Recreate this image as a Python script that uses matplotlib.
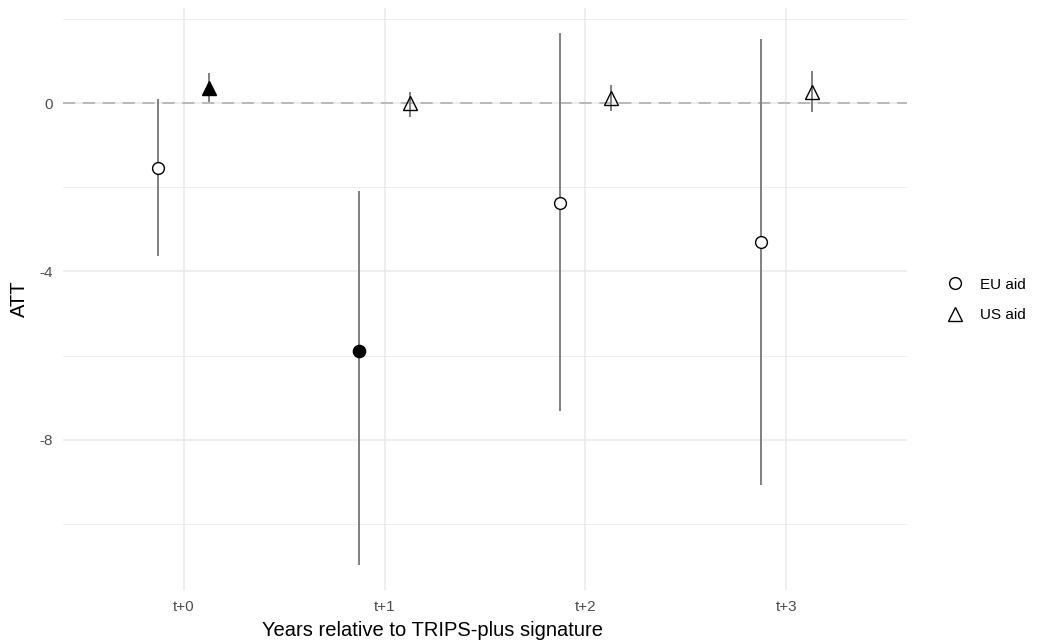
import matplotlib
matplotlib.use("Agg")
import matplotlib.pyplot as plt
from matplotlib.lines import Line2D
import numpy as np

plt.rcParams['font.family'] = ['Liberation Sans', 'DejaVu Sans']

periods = ["t+0", "t+1", "t+2", "t+3"]
eu_att = [-1.54, -5.89, -2.37, -3.31]
eu_lo = [-3.60, -10.97, -7.29, -9.06]
eu_hi = [0.07, -2.12, 1.64, 1.50]
eu_sig = [False, True, False, False]
us_att = [0.37, 0.02, 0.14, 0.28]
us_lo = [0.05, -0.31, -0.15, -0.19]
us_hi = [0.71, 0.25, 0.42, 0.74]
us_sig = [True, False, False, False]
yticks = [0, -4, -8]

W, H = 1042, 642
fig = plt.figure(figsize=(W / 100, H / 100), dpi=100)
left, right, top, bottom = 63, 907, 8, 590
ax = fig.add_axes([left / W, 1 - bottom / H, (right - left) / W, (bottom - top) / H])

x = np.arange(1, len(periods) + 1)
dodge = 0.125

ax.set_xlim(0.4, 4.6)
ax.set_ylim(-11.58, 2.27)

# grid
for yv in [2, -2, -6, -10]:
    ax.axhline(yv, color="#ebebeb", lw=0.6, zorder=0)
for yv in yticks:
    ax.axhline(yv, color="#ebebeb", lw=1.2, zorder=0)
for xv in x:
    ax.axvline(xv, color="#ebebeb", lw=1.2, zorder=0)

ax.axhline(0, color="#ababab", lw=1.1, ls=(0, (8, 5)), zorder=1)

err_c = "#808080"
for i in range(len(periods)):
    xe = x[i] - dodge
    ax.plot([xe, xe], [eu_lo[i], eu_hi[i]], color=err_c, lw=1.4, zorder=2)
    ax.plot([xe], [eu_att[i]], marker="o", ms=8.8 if eu_sig[i] else 8.5,
            mfc="black" if eu_sig[i] else "white", mec="black", mew=1.0,
            ls="none", zorder=3)
    xu = x[i] + dodge
    ax.plot([xu, xu], [us_lo[i], us_hi[i]], color=err_c, lw=1.4, zorder=2)
    if us_sig[i]:
        ax.plot([xu], [us_att[i]], marker="^", ms=9.5, mfc="black", mec="black",
                mew=1.0, ls="none", zorder=3)
    else:
        ax.plot([xu], [us_att[i]], marker="^", ms=10, mfc="none", mec="black",
                mew=1.0, ls="none", zorder=3)

for s in ax.spines.values():
    s.set_visible(False)
ax.set_xticks(x)
ax.set_xticklabels(periods)
ax.set_yticks(yticks)
ax.set_yticklabels([str(v) for v in yticks])
ax.tick_params(length=0, labelsize=11, labelcolor="#4d4d4d", pad=7)
ax.set_ylabel("ATT", fontsize=14.5, labelpad=8)
fig.text(433 / W, 1 - 630 / H, "Years relative to TRIPS-plus signature",
         fontsize=14.5, ha="center", va="center")

handles = [
    Line2D([], [], marker="o", ls="none", mfc="none", mec="black", ms=8.5, mew=1.0, label="EU aid"),
    Line2D([], [], marker="^", ls="none", mfc="none", mec="black", ms=10, mew=1.0, label="US aid"),
]
fig.legend(handles=handles, loc="center left", bbox_to_anchor=(930 / W, 1 - 300 / H),
           frameon=False, fontsize=11, handletextpad=0.9, labelspacing=1.1,
           handlelength=1.5)

fig.savefig("out.png", dpi=100, facecolor="white")
